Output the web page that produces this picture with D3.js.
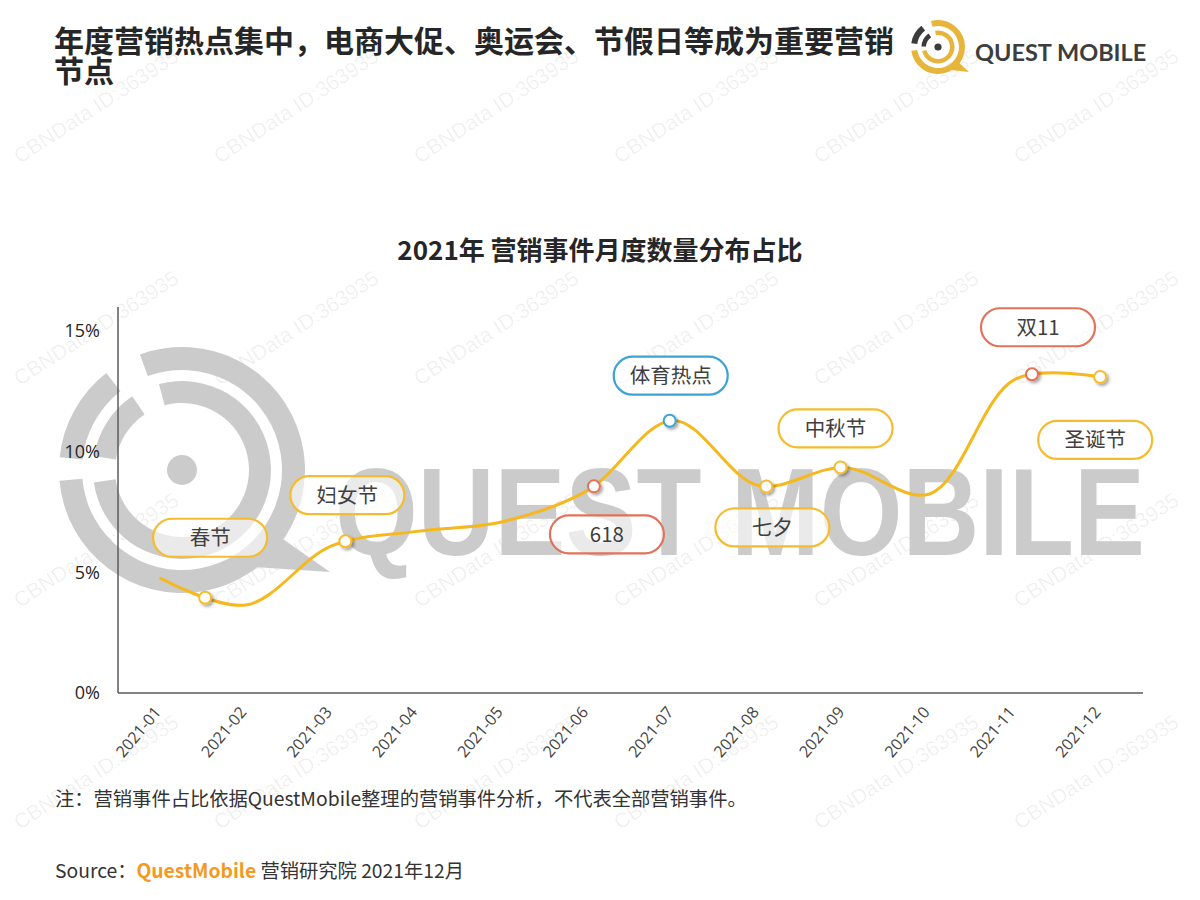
<!DOCTYPE html>
<html><head><meta charset="utf-8">
<script src="https://cdn.jsdelivr.net/npm/d3@7"></script>
<style>
body{margin:0;background:#fff;}
svg{display:block;font-family:"Noto Sans CJK SC","Noto Sans",sans-serif;}
</style></head><body>
<svg id="chart" width="1200" height="900"></svg>
<script>
// ---------- data ----------
const months = ["2021-01","2021-02","2021-03","2021-04","2021-05","2021-06","2021-07","2021-08","2021-09","2021-10","2021-11","2021-12"];
const shareValues = [4.75, 3.65, 6.1, 6.7, 7.1, 8.4, 11.3, 8.6, 9.35, 8.25, 13.0, 13.1]; // % of events
const yTicks = [0, 5, 10, 15];
const eventLabels = ["春节","妇女节","618","体育热点","七夕","中秋节","双11","圣诞节"];
const eventAt = [0.52, 2.16, 5.07, 5.96, 7.09, 7.96, 10.2, 11];   // position on the month axis
const eventType = ["holiday","holiday","promo","sports","holiday","holiday","promo","holiday"];

// ---------- layout / style ----------
const labelOffset = [[5,-60],[2,-46],[13,48],[1,-45],[6,41],[-5,-39],[6,-47],[-5,63]];
const typeColor = {holiday:"#F5BC2E", promo:"#E2735A", sports:"#3CA4D4"};
const lineColor = "#F5B81E";
const plot = {left:118, right:1143, top:307, bottom:693};

const svg = d3.select("#chart");
const defs = svg.append("defs");
const f = defs.append("filter").attr("id","shadow").attr("x","-50%").attr("y","-50%").attr("width","200%").attr("height","200%");
f.append("feDropShadow").attr("dx",2).attr("dy",2).attr("stdDeviation",1.4).attr("flood-color","#000").attr("flood-opacity",0.35);

// ---------- faint watermarks ----------
const wm = svg.append("g").attr("fill","#000").attr("fill-opacity",0.065)
  .style("font-family","'Liberation Sans',Arial,sans-serif").style("font-size","21px");
for (let r = 0; r < 4; r++) for (let c = 0; c < 6; c++) {
  wm.append("text").attr("text-anchor","middle")
    .attr("transform",`translate(${100 + 200*c},${112 + 222*r}) rotate(-33)`)
    .text("CBNData ID:363935");
}

// ---------- big grey background logo ----------
const bg = svg.append("g").attr("fill","#cbcbcb");
const lc = [182, 470];
const deg = Math.PI/180;
const bigArcs = [
  {ri:100, ro:123, a0:-20, a1:265},
  {ri:100, ro:123, a0:276, a1:322},
  {ri:67, ro:89, a0:-15, a1:262},
  {ri:67, ro:89, a0:279, a1:326}
];
bigArcs.forEach(a => bg.append("path").attr("transform",`translate(${lc})`)
  .attr("d", d3.arc()({innerRadius:a.ri, outerRadius:a.ro, startAngle:a.a0*deg, endAngle:a.a1*deg})));
bg.append("circle").attr("cx",lc[0]).attr("cy",lc[1]).attr("r",15);
bg.append("path").attr("d",`M${lc[0]+88},${lc[1]+60} L${lc[0]+148},${lc[1]+102} L${lc[0]+58},${lc[1]+96} Z`);
const bigText = bg.append("text").attr("x",0).attr("y",0)
  .style("font-family","'Liberation Sans',Arial,sans-serif").style("font-weight","bold").style("font-size","124px")
  .text("QUEST MOBILE");
const natW = bigText.node().getComputedTextLength();
bigText.attr("transform",`translate(335,555) scale(${810/natW},1)`);

// ---------- titles ----------
const title = svg.append("g").attr("fill","#262626").style("font-weight","bold").style("font-size","30px");
title.append("text").attr("x",54).attr("y",52).text("年度营销热点集中，电商大促、奥运会、节假日等成为重要营销");
title.append("text").attr("x",54).attr("y",82).text("节点");

// top-right logo
const lg = svg.append("g").attr("transform","translate(938,47)");
const yel = "#E7B53B", dk = "#3b3b3b";
lg.append("path").attr("fill",yel).attr("d", d3.arc()({innerRadius:21, outerRadius:27, startAngle:-15*deg, endAngle:262*deg}));
lg.append("path").attr("fill",dk).attr("d", d3.arc()({innerRadius:21, outerRadius:27, startAngle:278*deg, endAngle:322*deg}));
lg.append("path").attr("fill",yel).attr("d", d3.arc()({innerRadius:12, outerRadius:16.5, startAngle:-10*deg, endAngle:255*deg}));
lg.append("path").attr("fill",dk).attr("d", d3.arc()({innerRadius:12, outerRadius:16.5, startAngle:272*deg, endAngle:325*deg}));
lg.append("circle").attr("r",3.6).attr("fill",dk);
lg.append("path").attr("fill",yel).attr("d","M18,13 L31,25 L13,23 Z");
svg.append("text").attr("x",975).attr("y",61).attr("fill","#3d3d3d")
  .style("font-family","Lato,'Open Sans',sans-serif").style("font-weight","bold").style("font-size","23.5px")
  .text("QUEST MOBILE");

svg.append("text").attr("x",600).attr("y",260).attr("text-anchor","middle").attr("fill","#262626")
  .style("font-weight","bold").style("font-size","26px").text("2021年 营销事件月度数量分布占比");

// ---------- scales ----------
const x = d3.scaleLinear().domain([-0.5, months.length - 0.5]).range([plot.left, plot.right]);
const y = d3.scaleLinear().domain([0, 16]).range([plot.bottom, plot.top]);

// axes
const axG = svg.append("g");
axG.append("line").attr("x1",plot.left).attr("x2",plot.left).attr("y1",plot.top).attr("y2",plot.bottom)
  .attr("stroke","#5a5a5a").attr("stroke-width",1.5);
axG.append("line").attr("x1",plot.left).attr("x2",plot.right).attr("y1",plot.bottom).attr("y2",plot.bottom)
  .attr("stroke","#5a5a5a").attr("stroke-width",1.5);

const yAxis = d3.axisLeft(y).tickValues(yTicks).tickFormat(d => d + "%").tickSize(0).tickPadding(18);
const yg = svg.append("g").attr("transform",`translate(${plot.left},0)`).call(yAxis);
yg.select(".domain").remove();
yg.selectAll("text").attr("fill","#262626").style("font-size","18px").style("font-family","'Open Sans','Noto Sans',sans-serif");

const xg = svg.append("g");
xg.selectAll("text").data(months).join("text")
  .attr("text-anchor","end")
  .attr("transform",(d,i)=>`translate(${x(i)-3},${plot.bottom+16}) rotate(-50)`)
  .attr("dy","0.35em")
  .attr("fill","#444").style("font-size","16px").style("font-family","'Open Sans','Noto Sans',sans-serif")
  .text(d=>d);

// ---------- line ----------
const lineGen = d3.line().x((d,i)=>x(i)).y(d=>y(d)).curve(d3.curveCatmullRom.alpha(0.5));
const path = svg.append("path").datum(shareValues)
  .attr("d", lineGen).attr("fill","none").attr("stroke",lineColor).attr("stroke-width",3)
  .attr("stroke-linecap","round");

// sample the curve to put event markers exactly on it
const node = path.node(), total = node.getTotalLength();
const samples = [];
for (let l = 0; l <= total; l += 0.5) samples.push(node.getPointAtLength(l));
function onCurve(px) {
  let best = samples[0];
  for (const p of samples) if (Math.abs(p.x - px) < Math.abs(best.x - px)) best = p;
  return best;
}

// ---------- labels & markers ----------
const events = eventLabels.map((lab,i)=>{
  const p = onCurve(x(eventAt[i]));
  return {label:lab, type:eventType[i], mx:p.x, my:p.y, off:labelOffset[i]};
});

const lab = svg.append("g").selectAll("g").data(events).join("g")
  .attr("transform", d=>`translate(${d.mx + d.off[0]},${d.my + d.off[1]})`);
lab.append("rect").attr("x",-57).attr("y",-19).attr("width",114).attr("height",38).attr("rx",19)
  .attr("fill","#fff").attr("fill-opacity",0.6)
  .attr("stroke", d=>typeColor[d.type]).attr("stroke-width",2.2);
lab.append("text").attr("text-anchor","middle").attr("dy","0.36em").attr("fill","#3f3f3f")
  .style("font-size","20.5px").text(d=>d.label);

svg.append("g").selectAll("circle").data(events).join("circle")
  .attr("cx",d=>d.mx).attr("cy",d=>d.my).attr("r",6)
  .attr("fill","#fff").attr("stroke",d=>typeColor[d.type]).attr("stroke-width",2)
  .attr("filter","url(#shadow)");

// ---------- notes ----------
svg.append("text").attr("x",55).attr("y",806).attr("fill","#333").style("font-size","19.3px")
  .text("注：营销事件占比依据QuestMobile整理的营销事件分析，不代表全部营销事件。");
const src = svg.append("text").attr("x",55).attr("y",878).attr("fill","#333").style("font-size","19.3px");
src.append("tspan").text("Source：");
src.append("tspan").attr("fill","#F39A1E").style("font-weight","bold").text("QuestMobile");
src.append("tspan").text(" 营销研究院 2021年12月");
</script>
</body></html>
